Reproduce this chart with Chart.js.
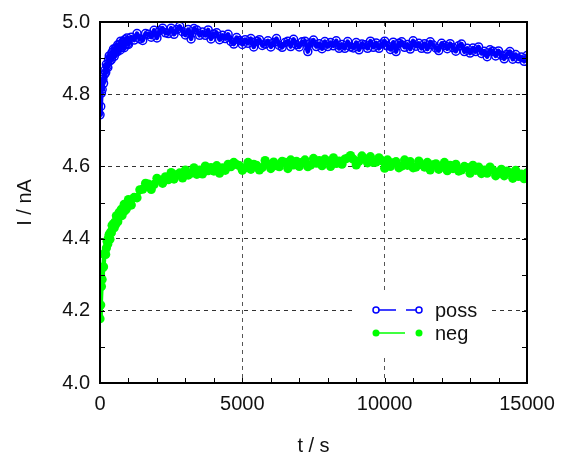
<!DOCTYPE html>
<html>
<head>
<meta charset="utf-8">
<script src="https://cdn.jsdelivr.net/npm/chart.js@4.4.1/dist/chart.umd.min.js"></script>
<style>
  html, body { margin: 0; padding: 0; background: #fff; }
  #chart { display: block; }
</style>
</head>
<body>
<canvas id="chart" width="564" height="458"></canvas>
<script>
// time in s
var times = [
    0, 25, 50, 75, 100, 125, 150, 175, 200, 225, 250, 275, 300, 325, 350, 375, 400, 425, 450, 475,
    500, 525, 550, 575, 600, 625, 650, 675, 700, 725, 750, 775, 800, 825, 850, 875, 900, 925, 950, 975,
    1000, 1100, 1200, 1300, 1400, 1500, 1600, 1700, 1800, 1900, 2000, 2100, 2200, 2300, 2400, 2500,
    2600, 2700, 2800, 2900, 3000, 3100, 3200, 3300, 3400, 3500, 3600, 3700, 3800, 3900, 4000, 4100,
    4200, 4300, 4400, 4500, 4600, 4700, 4800, 4900, 5000, 5100, 5200, 5300, 5400, 5500, 5600, 5700,
    5800, 5900, 6000, 6100, 6200, 6300, 6400, 6500, 6600, 6700, 6800, 6900, 7000, 7100, 7200, 7300,
    7400, 7500, 7600, 7700, 7800, 7900, 8000, 8100, 8200, 8300, 8400, 8500, 8600, 8700, 8800, 8900,
    9000, 9100, 9200, 9300, 9400, 9500, 9600, 9700, 9800, 9900, 10000, 10100, 10200, 10300, 10400,
    10500, 10600, 10700, 10800, 10900, 11000, 11100, 11200, 11300, 11400, 11500, 11600, 11700, 11800,
    11900, 12000, 12100, 12200, 12300, 12400, 12500, 12600, 12700, 12800, 12900, 13000, 13100, 13200,
    13300, 13400, 13500, 13600, 13700, 13800, 13900, 14000, 14100, 14200, 14300, 14400, 14500, 14600,
    14700, 14800, 14900, 15000
];

// current in nA, "poss"
var poss = [
    4.743, 4.766, 4.803, 4.813, 4.841, 4.830, 4.854, 4.866, 4.860, 4.883, 4.877, 4.874, 4.895, 4.906,
    4.892, 4.904, 4.896, 4.916, 4.909, 4.925, 4.905, 4.923, 4.928, 4.919, 4.917, 4.937, 4.927, 4.937,
    4.922, 4.947, 4.934, 4.930, 4.945, 4.943, 4.929, 4.951, 4.938, 4.946, 4.956, 4.940, 4.938,
    4.958, 4.950, 4.968, 4.953, 4.949, 4.968, 4.966, 4.958, 4.977, 4.956, 4.976, 4.983, 4.970, 4.968,
    4.983, 4.966, 4.979, 4.988, 4.973, 4.964, 4.979, 4.953, 4.982, 4.978, 4.963, 4.972, 4.963, 4.978,
    4.953, 4.967, 4.970, 4.951, 4.963, 4.954, 4.966, 4.946, 4.939, 4.957, 4.949, 4.938, 4.951, 4.941,
    4.954, 4.931, 4.947, 4.951, 4.935, 4.939, 4.948, 4.931, 4.943, 4.954, 4.935, 4.930, 4.943, 4.947,
    4.932, 4.952, 4.937, 4.931, 4.945, 4.947, 4.918, 4.942, 4.950, 4.932, 4.940, 4.926, 4.946, 4.932,
    4.943, 4.934, 4.948, 4.927, 4.938, 4.927, 4.946, 4.931, 4.928, 4.943, 4.923, 4.939, 4.937, 4.927,
    4.947, 4.930, 4.942, 4.927, 4.939, 4.947, 4.934, 4.924, 4.944, 4.918, 4.941, 4.945, 4.930, 4.938,
    4.925, 4.948, 4.933, 4.941, 4.927, 4.940, 4.925, 4.945, 4.936, 4.928, 4.921, 4.941, 4.935, 4.926,
    4.940, 4.929, 4.919, 4.934, 4.939, 4.918, 4.927, 4.914, 4.928, 4.918, 4.931, 4.913, 4.919, 4.904,
    4.923, 4.919, 4.906, 4.920, 4.908, 4.898, 4.911, 4.918, 4.897, 4.910, 4.898, 4.903, 4.891, 4.907
];

// current in nA, "neg"
var neg = [
    4.178, 4.216, 4.267, 4.287, 4.319, 4.322, 4.357, 4.360, 4.356, 4.374, 4.393, 4.385, 4.403, 4.412,
    4.398, 4.418, 4.416, 4.437, 4.428, 4.441, 4.430, 4.446, 4.439, 4.463, 4.460, 4.447, 4.459, 4.473,
    4.461, 4.473, 4.481, 4.464, 4.474, 4.483, 4.495, 4.477, 4.493, 4.482, 4.498, 4.491, 4.508,
    4.493, 4.514, 4.513, 4.535, 4.537, 4.553, 4.551, 4.536, 4.550, 4.567, 4.562, 4.553, 4.571, 4.563,
    4.583, 4.565, 4.577, 4.582, 4.568, 4.590, 4.576, 4.581, 4.596, 4.578, 4.590, 4.579, 4.601, 4.588,
    4.597, 4.587, 4.602, 4.581, 4.596, 4.589, 4.606, 4.599, 4.611, 4.605, 4.602, 4.589, 4.596, 4.611,
    4.592, 4.606, 4.603, 4.590, 4.597, 4.616, 4.606, 4.594, 4.612, 4.602, 4.599, 4.614, 4.611, 4.594,
    4.618, 4.604, 4.614, 4.600, 4.611, 4.618, 4.599, 4.604, 4.622, 4.609, 4.616, 4.602, 4.620, 4.615,
    4.600, 4.624, 4.608, 4.615, 4.606, 4.620, 4.623, 4.630, 4.620, 4.604, 4.614, 4.629, 4.621, 4.610,
    4.627, 4.611, 4.612, 4.624, 4.616, 4.595, 4.618, 4.600, 4.610, 4.613, 4.596, 4.601, 4.618, 4.603,
    4.613, 4.596, 4.598, 4.615, 4.605, 4.598, 4.611, 4.590, 4.604, 4.607, 4.592, 4.598, 4.611, 4.588,
    4.603, 4.594, 4.606, 4.587, 4.590, 4.600, 4.597, 4.581, 4.603, 4.589, 4.598, 4.580, 4.590, 4.581,
    4.598, 4.590, 4.574, 4.581, 4.592, 4.574, 4.587, 4.582, 4.567, 4.589, 4.572, 4.579, 4.566, 4.582
];

var xTicks = [0, 5000, 10000, 15000];
var yTicks = [4.0, 4.2, 4.4, 4.6, 4.8, 5.0];

var fontFamily = '"Liberation Sans", Arial, Helvetica, sans-serif';

function toPoints(ys) {
    return times.map(function(t, i) { return {x: t, y: ys[i]}; });
}

// frame, inward minor ticks and the legend box
var framePlugin = {
    id: 'frame',
    afterDatasetsDraw: function(chart) {
        var ctx = chart.ctx;
        var a = chart.chartArea;
        var xs = chart.scales.x;
        var ys = chart.scales.y;
        ctx.save();
        ctx.strokeStyle = '#000';
        ctx.lineWidth = 1;
        ctx.beginPath();
        for (var t = 1000; t < 15000; t += 1000) {
            var px = Math.round(xs.getPixelForValue(t)) + 0.5;
            ctx.moveTo(px, a.bottom); ctx.lineTo(px, a.bottom - 5);
            ctx.moveTo(px, a.top); ctx.lineTo(px, a.top + 5);
        }
        for (var k = 1; k < 10; k++) {
            var py = Math.round(ys.getPixelForValue(4 + k / 10)) + 0.5;
            ctx.moveTo(a.left, py); ctx.lineTo(a.left + 5, py);
            ctx.moveTo(a.right, py); ctx.lineTo(a.right - 5, py);
        }
        ctx.stroke();
        ctx.lineWidth = 2;
        ctx.strokeRect(a.left, a.top, a.right - a.left, a.bottom - a.top);

        // legend
        var sets = chart.data.datasets;
        var radii = [3, 3.5];
        ctx.fillStyle = '#fff';
        ctx.fillRect(355, 291, 135, 67);
        var rows = [310, 333];
        ctx.font = '20px ' + fontFamily;
        ctx.textBaseline = 'middle';
        ctx.textAlign = 'left';
        for (var i = 0; i < sets.length; i++) {
            var d = sets[i];
            var y = rows[i];
            ctx.strokeStyle = d.borderColor;
            ctx.lineWidth = 1.5;
            ctx.beginPath();
            if (i === 0) {
                ctx.moveTo(376, y); ctx.lineTo(396, y);
                ctx.moveTo(406, y); ctx.lineTo(419, y);
            } else {
                ctx.moveTo(376, y); ctx.lineTo(405, y);
            }
            ctx.stroke();
            [376, 419].forEach(function(cx) {
                ctx.beginPath();
                ctx.arc(cx, y, radii[i], 0, Math.PI * 2);
                if (i === 0) {
                    ctx.fillStyle = '#fff';
                    ctx.fill();
                    ctx.lineWidth = 1.5;
                    ctx.stroke();
                } else {
                    ctx.fillStyle = d.pointBackgroundColor;
                    ctx.fill();
                }
            });
            ctx.fillStyle = '#111';
            ctx.fillText(d.label, 435, y + 1);
        }
        ctx.restore();
    }
};

var config = {
    type: 'line',
    data: {
        datasets: [{
            label: 'poss',
            data: toPoints(poss),
            borderColor: '#0000ff',
            backgroundColor: 'rgba(0,0,255,0)',
            borderWidth: 4.5,
            borderJoinStyle: 'round',
            borderCapStyle: 'round',
            pointRadius: 4,
            pointBorderWidth: 1.5,
            pointBorderColor: '#0000ff',
            pointBackgroundColor: 'rgba(0,0,255,0)',
            tension: 0
        }, {
            label: 'neg',
            data: toPoints(neg),
            borderColor: '#00ff00',
            backgroundColor: '#00ff00',
            borderWidth: 4.5,
            borderJoinStyle: 'round',
            borderCapStyle: 'round',
            pointRadius: 4.6,
            pointBorderWidth: 0,
            pointBackgroundColor: '#00ff00',
            tension: 0
        }]
    },
    options: {
        responsive: false,
        devicePixelRatio: 1,
        animation: false,
        layout: { padding: { top: 16, right: 37, left: 0, bottom: 0 } },
        plugins: {
            legend: { display: false },
            tooltip: { enabled: false }
        },
        scales: {
            x: {
                type: 'linear',
                min: 0,
                max: 15000,
                afterFit: function(s) { s.height = 75; },
                afterBuildTicks: function(s) { s.ticks = xTicks.map(function(v) { return {value: v}; }); },
                ticks: {
                    color: '#111',
                    font: { family: fontFamily, size: 20 },
                    padding: 9,
                    maxRotation: 0,
                    autoSkip: false,
                    callback: function(v) { return String(v); }
                },
                grid: { color: '#555', drawTicks: false, lineWidth: 1 },
                border: { display: false, dash: [4, 4] },
                title: {
                    display: true,
                    text: 't / s',
                    color: '#111',
                    font: { family: fontFamily, size: 20 },
                    padding: { top: 0, bottom: 0 }
                }
            },
            y: {
                min: 4,
                max: 5,
                afterFit: function(s) { s.width = 100; },
                afterBuildTicks: function(s) { s.ticks = yTicks.map(function(v) { return {value: v}; }); },
                ticks: {
                    color: '#111',
                    font: { family: fontFamily, size: 20 },
                    padding: 10,
                    autoSkip: false,
                    callback: function(v) { return v.toFixed(1); }
                },
                grid: { color: '#333', drawTicks: false, lineWidth: 1 },
                border: { display: false, dash: [4, 4] },
                title: {
                    display: true,
                    text: 'I / nA',
                    color: '#111',
                    font: { family: fontFamily, size: 20 },
                    padding: { top: 13, bottom: 0 }
                }
            }
        }
    },
    plugins: [framePlugin]
};

var ctx = document.getElementById('chart');
window.myChart = new Chart(ctx, config);
</script>
</body>
</html>
